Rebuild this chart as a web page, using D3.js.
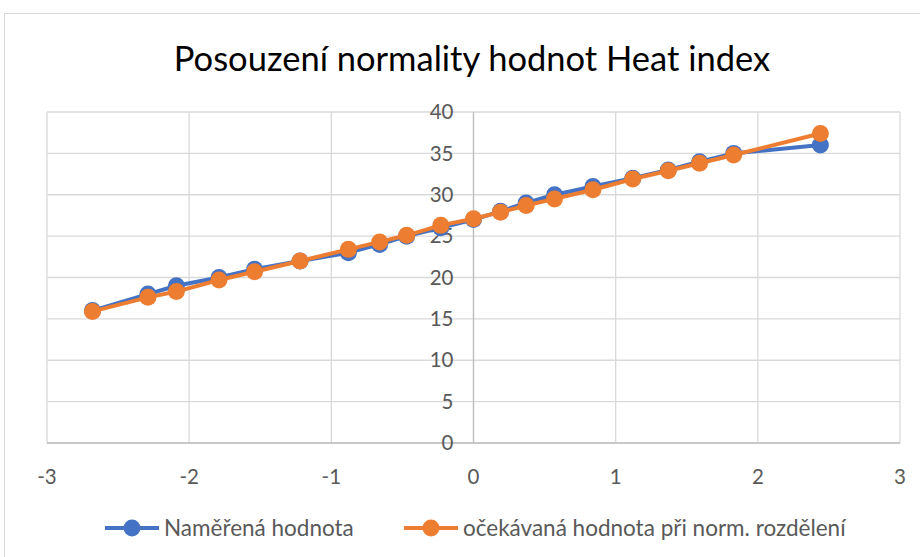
<!DOCTYPE html>
<html>
<head>
<meta charset="utf-8">
<script src="https://cdn.jsdelivr.net/npm/d3@7"></script>
<style>
  body { margin: 0; background: #fff; }
  text { font-family: Lato, "Open Sans", sans-serif; }
</style>
</head>
<body>
<div id="chart"></div>
<script>
// theoretical quantiles (x) shared by both series
const zValues = [-2.68, -2.29, -2.09, -1.79, -1.54, -1.22, -0.88, -0.66, -0.47, -0.23,
                 0, 0.19, 0.37, 0.57, 0.84, 1.12, 1.37, 1.59, 1.83, 2.44];
// measured heat index values
const measured = [16, 18, 19, 20, 21, 22, 23, 24, 25, 26,
                  27, 28, 29, 30, 31, 32, 33, 34, 35, 36];
// expected values under normal distribution
const expected = [15.9, 17.6, 18.3, 19.7, 20.7, 22.0, 23.4, 24.3, 25.1, 26.3,
                  27.1, 27.9, 28.7, 29.5, 30.6, 31.9, 32.9, 33.8, 34.8, 37.4];
const xTicks = [-3, -2, -1, 0, 1, 2, 3];
const yTicks = [0, 5, 10, 15, 20, 25, 30, 35, 40];
const seriesNames = ['Naměřená hodnota', 'očekávaná hodnota při norm. rozdělení'];
const seriesColors = ['#4472C4', '#ED7D31'];

const width = 920, height = 557;

const svg = d3.select('#chart').append('svg')
    .attr('width', width)
    .attr('height', height);

// chart border
svg.append('rect')
    .attr('x', 4.5).attr('y', 13.5)
    .attr('width', 930).attr('height', 560)
    .attr('fill', '#fff')
    .attr('stroke', '#d9d9d9');

// title
svg.append('text')
    .attr('x', 472).attr('y', 71)
    .attr('text-anchor', 'middle')
    .attr('font-size', 34.5)
    .attr('fill', '#000')
    .text('Posouzení normality hodnot Heat index');

const x = d3.scaleLinear().domain([-3, 3]).range([47, 900]);
const y = d3.scaleLinear().domain([0, 40]).range([443, 112]);

// gridlines
svg.append('g').selectAll('line.h')
    .data(yTicks)
    .enter().append('line')
    .attr('x1', x(-3)).attr('x2', x(3))
    .attr('y1', d => y(d)).attr('y2', d => y(d))
    .attr('stroke', '#d9d9d9').attr('stroke-width', 1.3);

svg.append('g').selectAll('line.v')
    .data(xTicks)
    .enter().append('line')
    .attr('x1', d => x(d)).attr('x2', d => x(d))
    .attr('y1', y(0)).attr('y2', y(40))
    .attr('stroke', '#d9d9d9').attr('stroke-width', 1.3);

// axis lines
svg.append('line')
    .attr('x1', x(-3)).attr('x2', x(3))
    .attr('y1', y(0)).attr('y2', y(0))
    .attr('stroke', '#bfbfbf').attr('stroke-width', 1.3);
svg.append('line')
    .attr('x1', x(0)).attr('x2', x(0))
    .attr('y1', y(0)).attr('y2', y(40))
    .attr('stroke', '#bfbfbf').attr('stroke-width', 1.3);

// y tick labels, next to the y axis at x = 0
svg.append('g').selectAll('text')
    .data(yTicks)
    .enter().append('text')
    .attr('x', x(0) - 20)
    .attr('y', d => y(d))
    .attr('dy', '0.35em')
    .attr('text-anchor', 'end')
    .attr('font-size', 20.5)
    .attr('fill', '#595959')
    .text(d => d);

// x tick labels
svg.append('g').selectAll('text')
    .data(xTicks)
    .enter().append('text')
    .attr('x', d => x(d))
    .attr('y', 477)
    .attr('dy', '0.35em')
    .attr('text-anchor', 'middle')
    .attr('font-size', 20.5)
    .attr('fill', '#595959')
    .text(d => d);

// series
const series = [measured, expected];
const line = d3.line()
    .x((d, i) => x(zValues[i]))
    .y(d => y(d));

series.forEach((vals, s) => {
    const g = svg.append('g');
    g.append('path')
        .datum(vals)
        .attr('d', line)
        .attr('fill', 'none')
        .attr('stroke', seriesColors[s])
        .attr('stroke-width', 4)
        .attr('stroke-linejoin', 'round');
    g.selectAll('circle')
        .data(vals)
        .enter().append('circle')
        .attr('cx', (d, i) => x(zValues[i]))
        .attr('cy', d => y(d))
        .attr('r', 8.5)
        .attr('fill', seriesColors[s]);
});

// legend
const legendX = [105, 404];
const legend = svg.append('g').selectAll('g')
    .data(seriesNames)
    .enter().append('g')
    .attr('transform', (d, i) => `translate(${legendX[i]}, 528)`);
legend.append('line')
    .attr('x1', 0).attr('x2', 54)
    .attr('stroke', (d, i) => seriesColors[i])
    .attr('stroke-width', 4);
legend.append('circle')
    .attr('cx', 27).attr('r', 8.5)
    .attr('fill', (d, i) => seriesColors[i]);
legend.append('text')
    .attr('x', 59)
    .attr('dy', '0.35em')
    .attr('font-size', 22.5)
    .attr('fill', '#595959')
    .text(d => d);
</script>
</body>
</html>
